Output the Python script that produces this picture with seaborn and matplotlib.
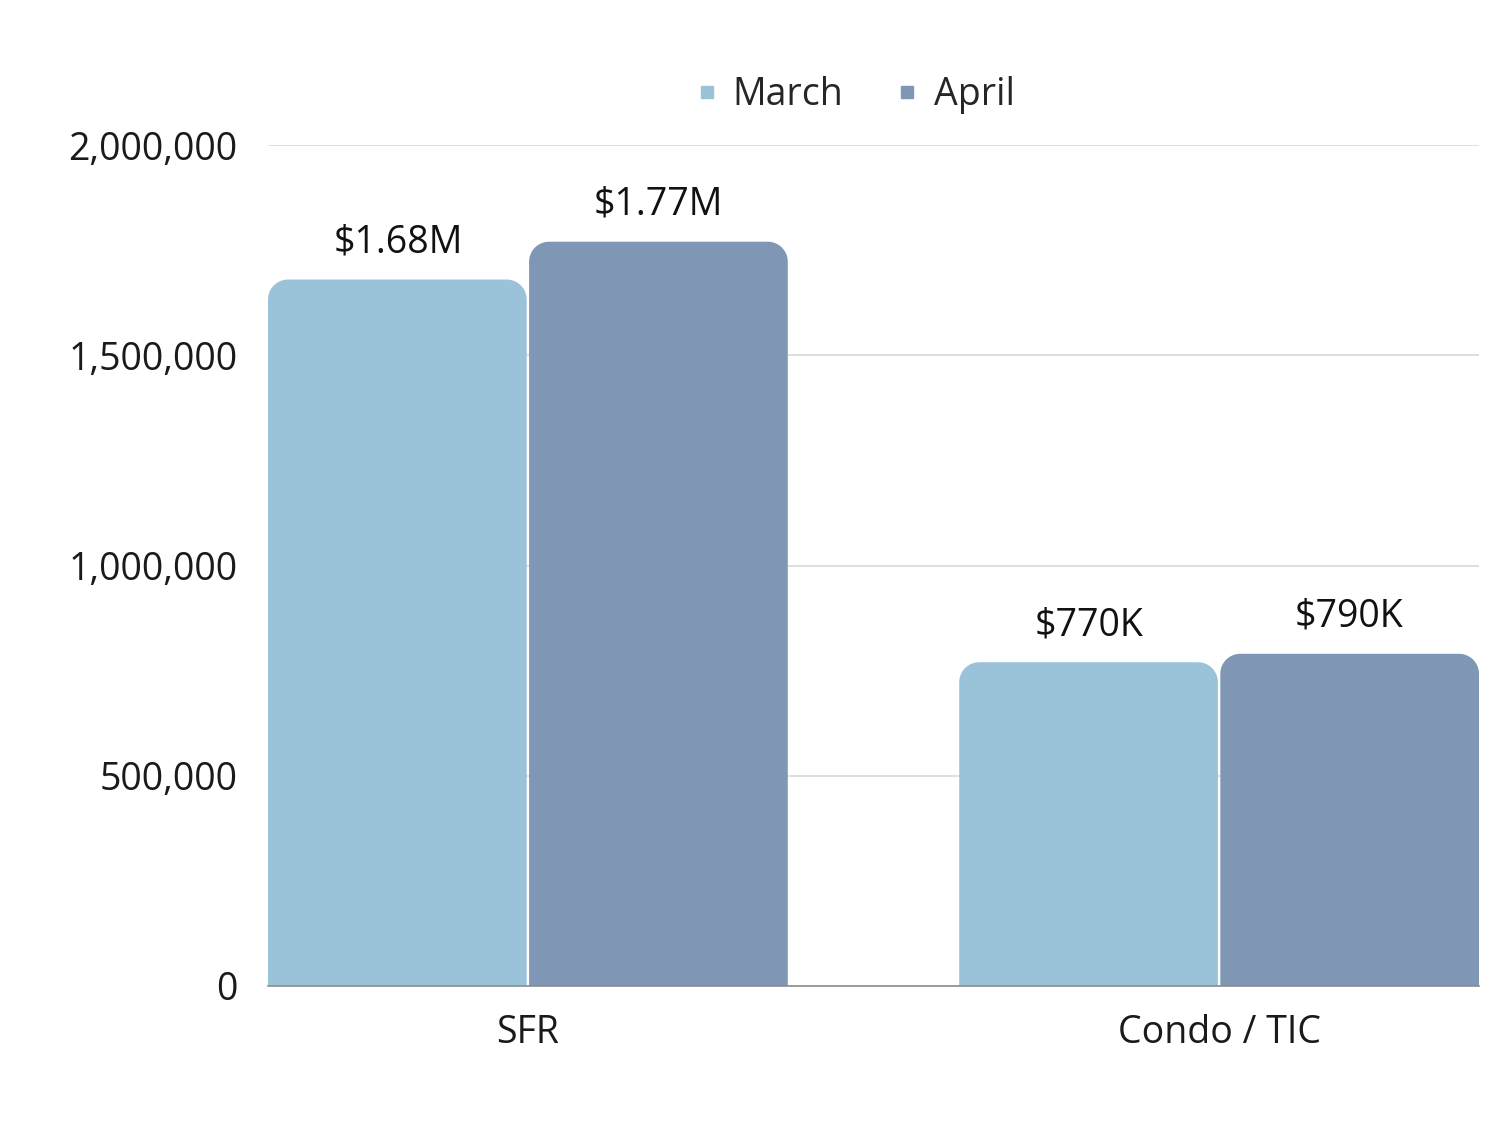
import numpy as np
import pandas as pd
import matplotlib
matplotlib.use("Agg")
import matplotlib.pyplot as plt
import seaborn as sns
from matplotlib.patches import PathPatch
from matplotlib.path import Path
from matplotlib.lines import Line2D

categories = ["SFR", "Condo / TIC"]
months = ["March", "April"]
march_values = [1680000, 770000]
april_values = [1770000, 790000]
bar_labels = {"March": ["$1.68M", "$770K"], "April": ["$1.77M", "$790K"]}
colors = {"March": "#9AC2D8", "April": "#7F97B4"}

df = pd.DataFrame({
    "type": categories * 2,
    "month": ["March"] * 2 + ["April"] * 2,
    "value": march_values + april_values,
})

sns.set_theme(style="white")
FONT = "Open Sans"
plt.rcParams["font.family"] = [FONT, "DejaVu Sans"]

fig = plt.figure(figsize=(15, 11.25), dpi=100)
ax = fig.add_axes([268 / 1500, 1 - 986 / 1125, (1479 - 268) / 1500, (986 - 145) / 1125])

sns.barplot(data=df, x="type", y="value", hue="month", hue_order=months,
            order=categories, palette=colors, width=0.752, errorbar=None,
            saturation=1, ax=ax, legend=False, zorder=2)

ax.set_xlim(-0.376, 1.376)
ax.set_ylim(0, 2000000)
ax.set_yticks([0, 500000, 1000000, 1500000, 2000000])
ax.set_yticklabels([f"{int(v):,}" for v in ax.get_yticks()])
ax.grid(axis="y", color="#D9D9D9", linewidth=1.2, zorder=0)
ax.set_axisbelow(True)
for s in ["top", "right", "left"]:
    ax.spines[s].set_visible(False)
ax.spines["bottom"].set_color("#8C8C8C")
ax.spines["bottom"].set_linewidth(1.2)
ax.spines["bottom"].set_zorder(5)
ax.tick_params(axis="y", length=0, pad=22, labelsize=27, labelcolor="#1a1a1a")
ax.tick_params(axis="x", length=0, pad=20, labelsize=27, labelcolor="#1a1a1a")
ax.set_xlabel("")
ax.set_ylabel("")

fig.canvas.draw()
x0, y0 = ax.transData.transform((0, 0))
x1, y1 = ax.transData.transform((1, 1))
px_x = 1.0 / (x1 - x0)
px_y = 1.0 / (y1 - y0)
r = 20

for cont, m in zip(ax.containers, months):
    ax.bar_label(cont, labels=bar_labels[m], padding=13, fontsize=27,
                 color="#111111")
    for i, p in enumerate(cont.patches):
        x, y = p.get_x(), p.get_y()
        w, h = p.get_width(), p.get_height()
        if m == "March":
            xl, xr = x, x + w - 1.2 * px_x
        else:
            xl, xr = x + 1.2 * px_x, x + w
        rx, ry = r * px_x, r * px_y
        pts = [(xl, y)]
        cx, cy = xl + rx, y + h - ry
        for a in np.linspace(np.pi, np.pi / 2, 20):
            pts.append((cx + rx * np.cos(a), cy + ry * np.sin(a)))
        cx = xr - rx
        for a in np.linspace(np.pi / 2, 0, 20):
            pts.append((cx + rx * np.cos(a), cy + ry * np.sin(a)))
        pts.append((xr, y))
        pts.append((xl, y))
        path = Path(pts, closed=True)
        newp = PathPatch(path, facecolor=p.get_facecolor(), edgecolor="none",
                         zorder=3)
        ax.add_patch(newp)
        p.set_visible(False)

handles = [Line2D([0], [0], marker="s", linestyle="none", markersize=9,
                  markerfacecolor=colors[m], markeredgecolor=colors[m])
           for m in months]
fig.legend(handles, months, loc="center", bbox_to_anchor=(853 / 1500, 1 - 95 / 1125),
           ncol=2, frameon=False, fontsize=27, handletextpad=0.3,
           columnspacing=1.3, handlelength=0.8)

fig.savefig("out.png", dpi=100)
